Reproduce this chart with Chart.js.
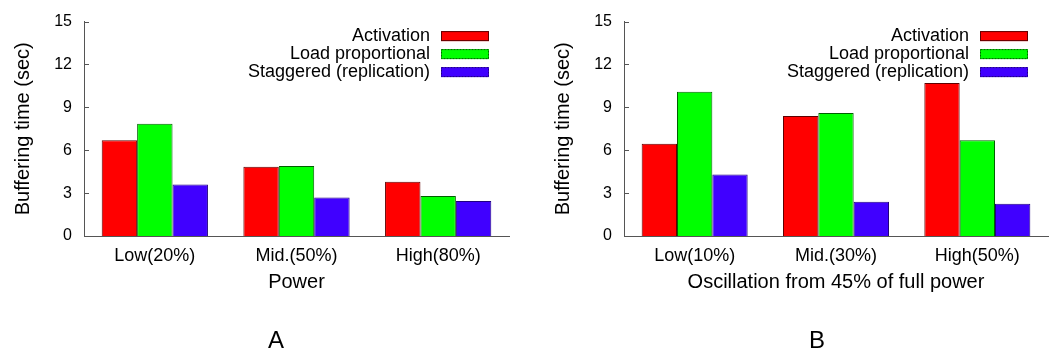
<!DOCTYPE html>
<html>
<head>
<meta charset="utf-8">
<script src="https://cdn.jsdelivr.net/npm/chart.js@4/dist/chart.umd.min.js"></script>
<style>
  body { margin: 0; background: #fff; }
  .panel { position: absolute; top: 0; width: 528px; height: 356px; }
  .tag { position: absolute; top: 326px; font: 24px "Liberation Sans", Arial, sans-serif; color: #000; }
</style>
</head>
<body>
<div class="panel" style="left:0"><canvas id="chartA" width="528" height="356"></canvas></div>
<div class="panel" style="left:528px"><canvas id="chartB" width="528" height="356"></canvas></div>
<div class="tag" style="left:268px">A</div>
<div class="tag" style="left:809px">B</div>
<script>
// Data
const seriesNames = ["Activation", "Load proportional", "Staggered (replication)"]
const seriesColors = ["#ff0000", "#00ff00", "#4000ff"]
const seriesBorders = ["#600000", "#006000", "#200080"]

const powerLabels = ["Low(20%)", "Mid.(50%)", "High(80%)"]
const powerActivation = [6.7, 4.85, 3.8]
const powerLoad = [7.85, 4.9, 2.8]
const powerStaggered = [3.6, 2.7, 2.45]

const oscLabels = ["Low(10%)", "Mid.(30%)", "High(50%)"]
const oscActivation = [6.45, 8.4, 10.7]
const oscLoad = [10.1, 8.6, 6.7]
const oscStaggered = [4.3, 2.4, 2.25]

const yTicks = [0, 3, 6, 9, 12, 15]

Chart.defaults.font.family = '"Liberation Sans", Arial, sans-serif'
Chart.defaults.color = "#000"

// gnuplot style legend: text right aligned, swatch on the right
const keyPlugin = {
  id: "key",
  afterDatasetsDraw(chart) {
    const ctx = chart.ctx
    const area = chart.chartArea
    ctx.save()
    ctx.font = '18px "Liberation Sans", Arial, sans-serif'
    ctx.textAlign = "right"
    ctx.textBaseline = "middle"
    chart.data.datasets.forEach((ds, i) => {
      const y = area.top + 14.5 + 18 * i
      ctx.fillStyle = "#000"
      ctx.fillText(ds.label, area.right - 79, y)
      ctx.fillStyle = ds.backgroundColor
      ctx.fillRect(area.right - 68, y - 5, 48, 10)
      ctx.strokeStyle = ds.borderColor
      ctx.lineWidth = 1
      ctx.setLineDash(i === 0 ? [] : [2, 1])
      ctx.strokeRect(area.right - 67.5, y - 4.5, 47, 9)
    })
    ctx.restore()
  },
}

// inward tick marks on the y axis
const inTicksPlugin = {
  id: "inTicks",
  afterDraw(chart) {
    const ctx = chart.ctx
    const y = chart.scales.y
    const left = chart.chartArea.left
    ctx.save()
    ctx.strokeStyle = "#555"
    ctx.lineWidth = 1
    y.ticks.forEach((t) => {
      const py = Math.round(y.getPixelForValue(t.value)) + 0.5
      ctx.beginPath()
      ctx.moveTo(left, py)
      ctx.lineTo(left + 5, py)
      ctx.stroke()
    })
    ctx.restore()
  },
}

function makeChart(id, labels, values, xTitle, padLeft, padRight) {
  const ctx = document.getElementById(id).getContext("2d")
  return new Chart(ctx, {
    type: "bar",
    data: {
      labels: labels,
      datasets: values.map((v, i) => ({
        label: seriesNames[i],
        data: v,
        backgroundColor: seriesColors[i],
        borderColor: seriesBorders[i],
        borderWidth: 1,
        borderSkipped: "bottom",
        categoryPercentage: 0.75,
        barPercentage: 1.0,
      })),
    },
    options: {
      responsive: false,
      animation: false,
      layout: { padding: { left: padLeft, right: padRight, top: 17, bottom: 60 } },
      plugins: { legend: { display: false }, tooltip: { enabled: false } },
      scales: {
        x: {
          grid: { display: false, drawTicks: false },
          border: { display: true, color: "#555", width: 1 },
          ticks: { font: { size: 18 }, padding: 9 },
          title: { display: true, text: xTitle, font: { size: 20 }, padding: { top: 0, bottom: 2 } },
          afterFit(axis) { axis.height = 60 },
        },
        y: {
          min: 0,
          max: 15,
          afterBuildTicks(axis) { axis.ticks = yTicks.map((v) => ({ value: v })) },
          grid: { display: false, drawTicks: false },
          border: { display: true, color: "#555", width: 1 },
          ticks: { font: { size: 16 }, padding: 12 },
          title: { display: true, text: "Buffering time (sec)", font: { size: 20 }, padding: { top: 11, bottom: 0 } },
          afterFit(axis) { axis.width = 84 },
        },
      },
    },
    plugins: [keyPlugin, inTicksPlugin],
  })
}

makeChart("chartA", powerLabels, [powerActivation, powerLoad, powerStaggered], "Power", 0, 19)
makeChart("chartB", oscLabels, [oscActivation, oscLoad, oscStaggered], "Oscillation from 45% of full power", 12, 8)
</script>
</body>
</html>
